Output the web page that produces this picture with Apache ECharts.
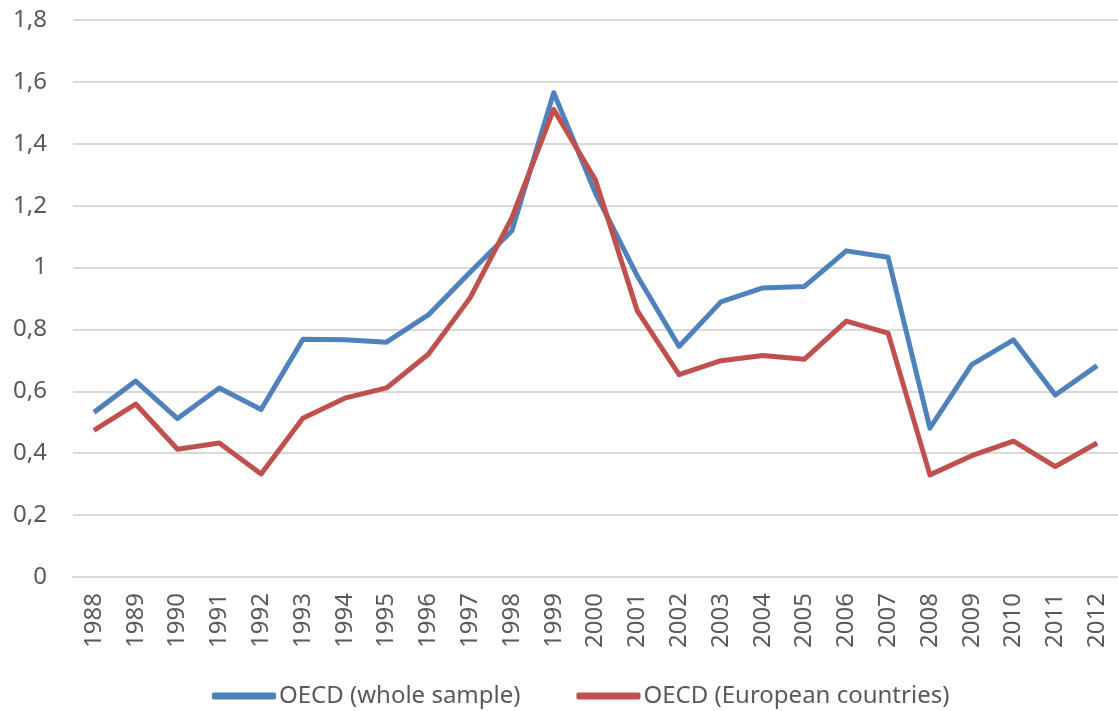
<!DOCTYPE html>
<html>
<head>
<meta charset="utf-8">
<script src="https://cdn.jsdelivr.net/npm/echarts@6/dist/echarts.min.js"></script>
<style>
    html, body { margin: 0; padding: 0; background: #fff; }
    #container { width: 1118px; height: 711px; }
</style>
</head>
<body>
<div id="container"></div>
<script>
var years = ['1988', '1989', '1990', '1991', '1992', '1993', '1994', '1995', '1996', '1997',
    '1998', '1999', '2000', '2001', '2002', '2003', '2004', '2005', '2006', '2007',
    '2008', '2009', '2010', '2011', '2012'];

// OECD (whole sample)
var wholeSample = [0.532, 0.633, 0.512, 0.611, 0.541, 0.768, 0.767, 0.759, 0.847, 0.985,
    1.119, 1.565, 1.24, 0.973, 0.745, 0.889, 0.934, 0.939, 1.054, 1.033,
    0.481, 0.686, 0.766, 0.588, 0.683];

// OECD (European countries)
var european = [0.474, 0.559, 0.413, 0.433, 0.333, 0.513, 0.578, 0.611, 0.72, 0.902,
    1.161, 1.511, 1.283, 0.86, 0.654, 0.699, 0.716, 0.704, 0.827, 0.788,
    0.33, 0.392, 0.439, 0.357, 0.433];

var seriesNames = ['OECD (whole sample)', 'OECD (European countries)'];


function initChart(echarts) {
    var myChart = echarts.init(document.getElementById('container'));
    var textColor = '#595959';
    var font = 'Noto Sans';

    var option = {
        backgroundColor: '#ffffff',
        animation: false,
        grid: {
            left: 73,
            right: 0,
            top: 20,
            bottom: 134,
            containLabel: false
        },
        legend: {
            data: seriesNames,
            top: 684,
            left: 212,
            padding: 0,
            icon: 'roundRect',
            itemWidth: 64,
            itemHeight: 7,
            itemGap: 56,
            textStyle: {
                color: textColor,
                fontFamily: font,
                fontSize: 24,
                padding: [0, 0, 0, -2]
            }
        },
        xAxis: [
            {
                type: 'category',
                data: years,
                boundaryGap: true,
                axisLine: { show: true, lineStyle: { color: '#d9d9d9', width: 2 } },
                axisTick: { show: false },
                axisLabel: {
                    rotate: 90,
                    interval: 0,
                    margin: 16,
                    color: textColor,
                    fontFamily: font,
                    fontSize: 24
                }
            }
        ],
        yAxis: [
            {
                type: 'value',
                min: 0,
                max: 1.8,
                interval: 0.2,
                axisLine: { show: false },
                axisTick: { show: false },
                splitLine: { lineStyle: { color: '#d9d9d9', width: 2 } },
                axisLabel: {
                    margin: 26,
                    color: textColor,
                    fontFamily: font,
                    fontSize: 24,
                    formatter: function (v) {
                        return String(Number(v.toFixed(1))).replace('.', ',');
                    }
                }
            }
        ],
        series: [
            {
                name: seriesNames[0],
                type: 'line',
                data: wholeSample,
                symbol: 'none',
                color: '#4f81bd',
                lineStyle: { width: 5, color: '#4f81bd', join: 'round' }
            },
            {
                name: seriesNames[1],
                type: 'line',
                data: european,
                symbol: 'none',
                color: '#c0504d',
                lineStyle: { width: 5, color: '#c0504d', join: 'round' }
            }
        ]
    };

    myChart.setOption(option);
}

initChart(echarts);
</script>
</body>
</html>
